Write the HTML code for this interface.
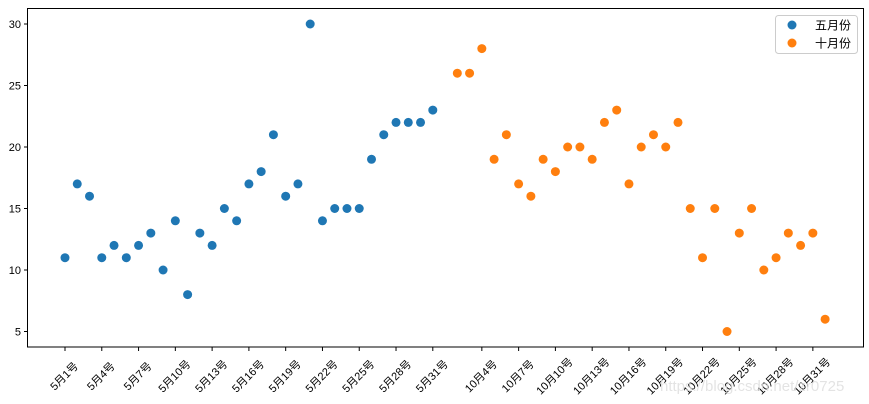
<!DOCTYPE html>
<html><head><meta charset="utf-8"><style>
body{margin:0;background:#fff;}
svg{display:block;font-family:"Liberation Sans","Noto Sans CJK SC",sans-serif;}
</style></head><body>
<svg id="s" width="869" height="404" xmlns="http://www.w3.org/2000/svg">
<rect x="0" y="0" width="869" height="404" fill="#fff"/>
<rect x="27.5" y="8.5" width="836" height="338.5" fill="none" stroke="#000" stroke-width="1"/>
<g id="g"></g>
<rect x="775.5" y="15.5" width="82" height="38" rx="3" fill="#fff" stroke="#ccc"/>
<circle cx="792" cy="25" r="4.5" fill="#1f77b4"/>
<circle cx="792" cy="43" r="4.5" fill="#ff7f0e"/>
<text x="815" y="29.5" font-size="12">五月份</text>
<text x="815" y="47.5" font-size="12">十月份</text>
<text x="660" y="391" font-size="15" fill="#ddd" opacity="0.8">https://blog.csdn.net/zr0725</text>
</svg>
<script>
var g=document.getElementById('g'),h='';
var b=[11,17,16,11,12,11,12,13,10,14,8,13,12,15,14,17,18,21,16,17,30,14,15,15,15,19,21,22,22,22,23];
var o=[26,26,28,19,21,17,16,19,18,20,20,19,22,23,17,20,21,20,22,15,11,15,5,13,15,10,11,13,12,13,6];
function X(i){return 65+i*12.26;}
function Y(v){return 24+(30-v)*12.3;}
for(var v=5;v<=30;v+=5){var y=Y(v);h+='<line x1="24" x2="27.5" y1="'+y+'" y2="'+y+'" stroke="#000"/><text x="21" y="'+(y+4)+'" font-size="11" text-anchor="end">'+v+'</text>';}
var t=[];for(var i=0;i<=30;i+=3)t.push([i,'5月'+(i+1)+'号']);for(var i=34;i<=61;i+=3)t.push([i,'10月'+(i-30)+'号']);
t.forEach(function(a){var x=X(a[0]);h+='<line x1="'+x+'" x2="'+x+'" y1="347" y2="351" stroke="#000"/><text transform="translate('+(x-1)+',376) rotate(-45)" dy="4" font-size="11" text-anchor="middle">'+a[1]+'</text>';});
b.forEach(function(v,i){h+='<circle cx="'+X(i)+'" cy="'+Y(v)+'" r="4.5" fill="#1f77b4"/>';});
o.forEach(function(v,i){h+='<circle cx="'+X(i+32)+'" cy="'+Y(v)+'" r="4.5" fill="#ff7f0e"/>';});
g.innerHTML=h;
</script>
</body></html>
